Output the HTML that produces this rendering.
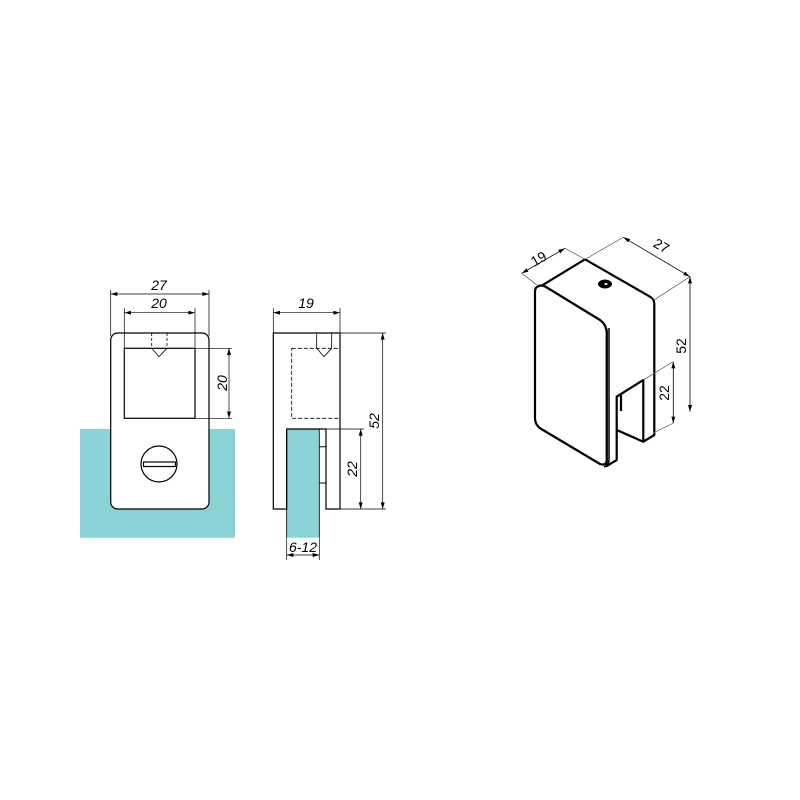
<!DOCTYPE html>
<html><head><meta charset="utf-8"><style>html,body{margin:0;padding:0;background:#fff}svg{display:block}</style></head>
<body>
<svg width="800" height="800" viewBox="0 0 800 800" xmlns="http://www.w3.org/2000/svg" font-family="Liberation Sans, sans-serif">
<defs>
<marker id="a" viewBox="0 0 10 6" refX="10" refY="3" markerWidth="7" markerHeight="4" orient="auto-start-reverse" markerUnits="userSpaceOnUse"><path d="M0,0L10,3L0,6z" fill="#000"/></marker>
</defs>
<!-- FRONT VIEW -->
<rect x="80" y="429" width="155" height="108.7" fill="#8ad3d6"/>
<rect x="110.7" y="333" width="98.3" height="176" rx="7" fill="#fff" stroke="#000" stroke-width="1.2"/>
<rect x="124.3" y="348.3" width="70.7" height="70" fill="#fff" stroke="#000" stroke-width="1.2"/>
<path d="M151.7,333V348M167,333V348" stroke="#000" stroke-width="0.8" stroke-dasharray="3,2"/>
<path d="M151.7,348.3L159,356.7L167,348.3" fill="none" stroke="#000" stroke-width="0.8"/>
<circle cx="159" cy="464" r="18" fill="#fff" stroke="#000" stroke-width="1.2"/>
<rect x="143.5" y="462" width="32" height="4.5" fill="#fff" stroke="#000" stroke-width="1.2"/>
<g stroke="#000" stroke-width="0.7" fill="none">
<path d="M110.7,290V336M209,290V336M124.3,308V348M195,308V348M195,348.3H232M195,418.3H232"/>
<line x1="110.7" y1="294" x2="209" y2="294" marker-start="url(#a)" marker-end="url(#a)"/>
<line x1="124.3" y1="312.7" x2="195" y2="312.7" marker-start="url(#a)" marker-end="url(#a)"/>
<line x1="229" y1="348.3" x2="229" y2="418.3" marker-start="url(#a)" marker-end="url(#a)"/>
</g>
<g font-size="14" font-style="italic" text-anchor="middle">
<text x="159" y="290">27</text><text x="159" y="308">20</text>
<text transform="translate(227,383) rotate(-90)">20</text>
</g>
<!-- SIDE VIEW -->
<rect x="286.7" y="429" width="32.6" height="108.7" fill="#8ad3d6"/>
<path d="M273.3,509V333H340V509H326V429H286.7V509Z" fill="#fff" stroke="#000" stroke-width="1.2"/>
<path d="M319.3,429H326V483H319.3M319.3,446.7H326" fill="none" stroke="#000" stroke-width="1"/>
<path d="M286.7,429V537.7M319.3,429V537.7" stroke="#000" stroke-width="0.8"/>
<rect x="291.7" y="348.3" width="48.3" height="70" fill="none" stroke="#000" stroke-width="0.8" stroke-dasharray="4,2"/>
<path d="M316.7,333V348M331.7,333V348" stroke="#000" stroke-width="0.8"/>
<path d="M316.7,348.3L324,356.7L331.7,348.3" fill="none" stroke="#000" stroke-width="0.8"/>
<g stroke="#000" stroke-width="0.7" fill="none">
<path d="M273.3,308V333M340,308V333M340,333H386M340,509H386M326,429H364M286.7,538V560M319.3,538V560"/>
<line x1="273.3" y1="312.7" x2="340" y2="312.7" marker-start="url(#a)" marker-end="url(#a)"/>
<line x1="382.7" y1="333" x2="382.7" y2="509" marker-start="url(#a)" marker-end="url(#a)"/>
<line x1="360.7" y1="429" x2="360.7" y2="509" marker-start="url(#a)" marker-end="url(#a)"/>
<line x1="286.7" y1="555" x2="319.3" y2="555" marker-start="url(#a)" marker-end="url(#a)"/>
</g>
<g font-size="14" font-style="italic" text-anchor="middle">
<text x="306" y="308">19</text><text x="303" y="552">6-12</text>
<text transform="translate(379,421) rotate(-90)">52</text>
<text transform="translate(357,469) rotate(-90)">22</text>
</g>
<!-- ISO VIEW -->
<g stroke="#000" stroke-width="2.2" fill="#fff" stroke-linejoin="round">
<path d="M540,286.7L585,259.3L650,296.7Q654.3,299 654.3,304V435L643.3,441.7V380L616.7,396.7V460L606.7,466V330Z"/>
<path d="M616.7,430L643.3,441.7M616.7,396.7L621,394V411" fill="none"/>
<path d="M537,287Q541,284 546,287L600,320Q606.7,325 606.7,333V460Q606.7,466 600,464L543,430Q535,426 535,418V292Q535,288 537,287Z"/>
<path d="M609,328V460Q609,465 604,467" fill="none" stroke-width="1.5"/>
</g>
<ellipse cx="605" cy="284" rx="7" ry="4.5" fill="#000"/>
<ellipse cx="606" cy="284" rx="1.5" ry="1" fill="#fff"/>
<g stroke="#666" stroke-width="0.8" fill="none">
<path d="M521.7,273.3L537,285M565,248.3L585,259.3M585,259.3L623.3,237.3M654,300L690,276.7M643.3,380L673,361.7M653,433L673,423.3"/>
</g>
<g stroke="#000" stroke-width="0.8" fill="none">
<line x1="521.7" y1="273.3" x2="565" y2="248.3" marker-start="url(#a)" marker-end="url(#a)"/>
<line x1="623.3" y1="237.3" x2="690" y2="276.7" marker-start="url(#a)" marker-end="url(#a)"/>
<line x1="690" y1="276.7" x2="690" y2="411.7" marker-start="url(#a)" marker-end="url(#a)"/>
<line x1="673.3" y1="361.7" x2="673.3" y2="423.3" marker-start="url(#a)" marker-end="url(#a)"/>
</g>
<g font-size="14" text-anchor="middle">
<text transform="translate(541,263) rotate(-30)">19</text>
<text transform="translate(659,250) rotate(30)">27</text>
<text transform="translate(686,346) rotate(-90)">52</text>
<text transform="translate(669,393) rotate(-90)">22</text>
</g>
</svg>
</body></html>
